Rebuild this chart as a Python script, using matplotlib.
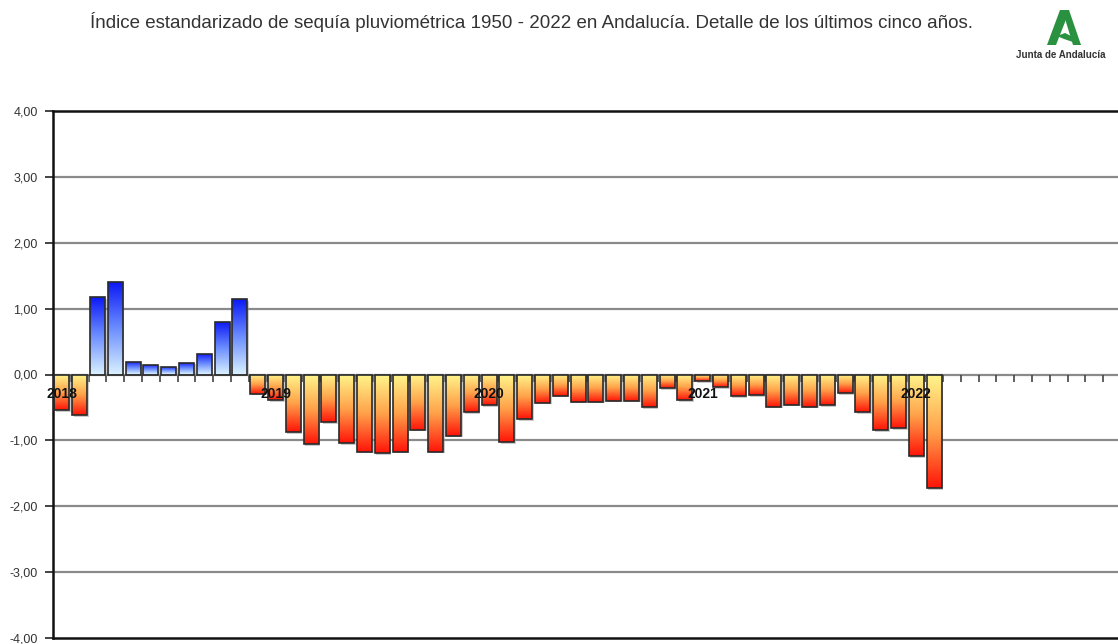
import numpy as np
import matplotlib
matplotlib.use('Agg')
import matplotlib.pyplot as plt
from matplotlib.colors import LinearSegmentedColormap
from matplotlib.patches import Rectangle, Polygon

plt.rcParams['font.family'] = ['Liberation Sans', 'DejaVu Sans']

# SPI mensual, enero 2018 - febrero 2022
spi = [-0.54, -0.62, 1.17, 1.41, 0.19, 0.15, 0.12, 0.18, 0.31, 0.80, 1.14, -0.29,
       -0.39, -0.88, -1.06, -0.72, -1.04, -1.17, -1.19, -1.17, -0.84, -1.17, -0.93, -0.57,
       -0.47, -1.03, -0.68, -0.43, -0.32, -0.41, -0.41, -0.40, -0.40, -0.50, -0.21, -0.39,
       -0.10, -0.19, -0.33, -0.31, -0.49, -0.46, -0.49, -0.47, -0.28, -0.57, -0.85, -0.81,
       -1.24, -1.73]
years = ['2018', '2019', '2020', '2021', '2022']
n_months = 60
yticks = [4, 3, 2, 1, 0, -1, -2, -3, -4]
ytick_labels = ['%.2f' % v for v in yticks]
ytick_labels = [s.replace('.', ',') for s in ytick_labels]

title = ('Índice estandarizado de sequía pluviométrica 1950 - 2022 en Andalucía. '
         'Detalle de los últimos cinco años.')

W, H = 1118, 644
fig = plt.figure(figsize=(W / 100, H / 100), dpi=100)
ax = fig.add_axes([53 / W, 6 / H, 1068 / W, 527 / H])

cmap_neg = LinearSegmentedColormap.from_list('neg', ['#fff68c', '#ffa24a', '#ff1408'])
cmap_pos = LinearSegmentedColormap.from_list('pos', ['#d8f0ff', '#6a8cff', '#0a16f5'])
grad = np.linspace(0, 1, 256).reshape(-1, 1)

# grid lines
for v in yticks[1:-1]:
    ax.axhline(v, color='#8a8a8a', lw=1.6, zorder=1)

# small ticks on the zero line
ax.vlines(np.arange(1, n_months) - 0.5, -0.11, 0, color='#444444', lw=1.2, zorder=1.5)

bw = 0.84
dx, dy = 0.09, 0.025  # shadow offset
for i, v in enumerate(spi):
    x0 = i - bw / 2
    ax.add_patch(Rectangle((x0 + dx, -dy), bw, v, facecolor='#9a9a9a', edgecolor='none',
                           alpha=0.5, zorder=2.2))
    rect = Rectangle((x0, 0), bw, v, facecolor='none', edgecolor='#2a2a2a', lw=1.2, zorder=3)
    ax.add_patch(rect)
    if v < 0:
        im = ax.imshow(grad, cmap=cmap_neg, extent=[x0, x0 + bw, v, 0], origin='upper',
                       aspect='auto', zorder=2.5, interpolation='bilinear')
    else:
        im = ax.imshow(grad, cmap=cmap_pos, extent=[x0, x0 + bw, 0, v], origin='lower',
                       aspect='auto', zorder=2.5, interpolation='bilinear')
    im.set_clip_path(rect)

for k, yr in enumerate(years):
    ax.text(12 * k, -0.29, yr, ha='center', va='center', fontsize=10, fontweight='bold',
            color='#111111', zorder=5)

ax.set_xlim(-0.5, n_months - 0.5)
ax.set_ylim(-4, 4)
ax.set_xticks([])
ax.set_yticks(yticks)
ax.set_yticklabels(ytick_labels, fontsize=9, color='#333333')
ax.tick_params(axis='y', direction='out', length=6, width=1.2, pad=5, color='#222222')
for side in ['left', 'bottom', 'top']:
    ax.spines[side].set_color('#111111')
    ax.spines[side].set_linewidth(1.8)
ax.spines['right'].set_visible(False)

fig.text(531 / W, 1 - 22 / H, title, ha='center', va='center', fontsize=13.5, color='#333333')

# logo Junta de Andalucía
green = '#2a9140'
def px(pts):
    return [(x / W, 1 - y / H) for x, y in pts]
for pts in [
    [(1047, 45), (1056, 45), (1067, 17), (1064, 10), (1060, 10)],
    [(1062, 10), (1069, 10), (1081, 45), (1073, 45), (1066, 22)],
    [(1057, 36), (1065, 33), (1073, 37), (1081, 45), (1073, 42), (1064, 39)],
]:
    fig.add_artist(Polygon(px(pts), closed=True, facecolor=green, edgecolor='none',
                           transform=fig.transFigure))
fig.text(1061 / W, 1 - 55 / H, 'Junta de Andalucía', ha='center', va='center', fontsize=7,
         fontweight='bold', color='#333333')

fig.savefig('out.png', dpi=100)
